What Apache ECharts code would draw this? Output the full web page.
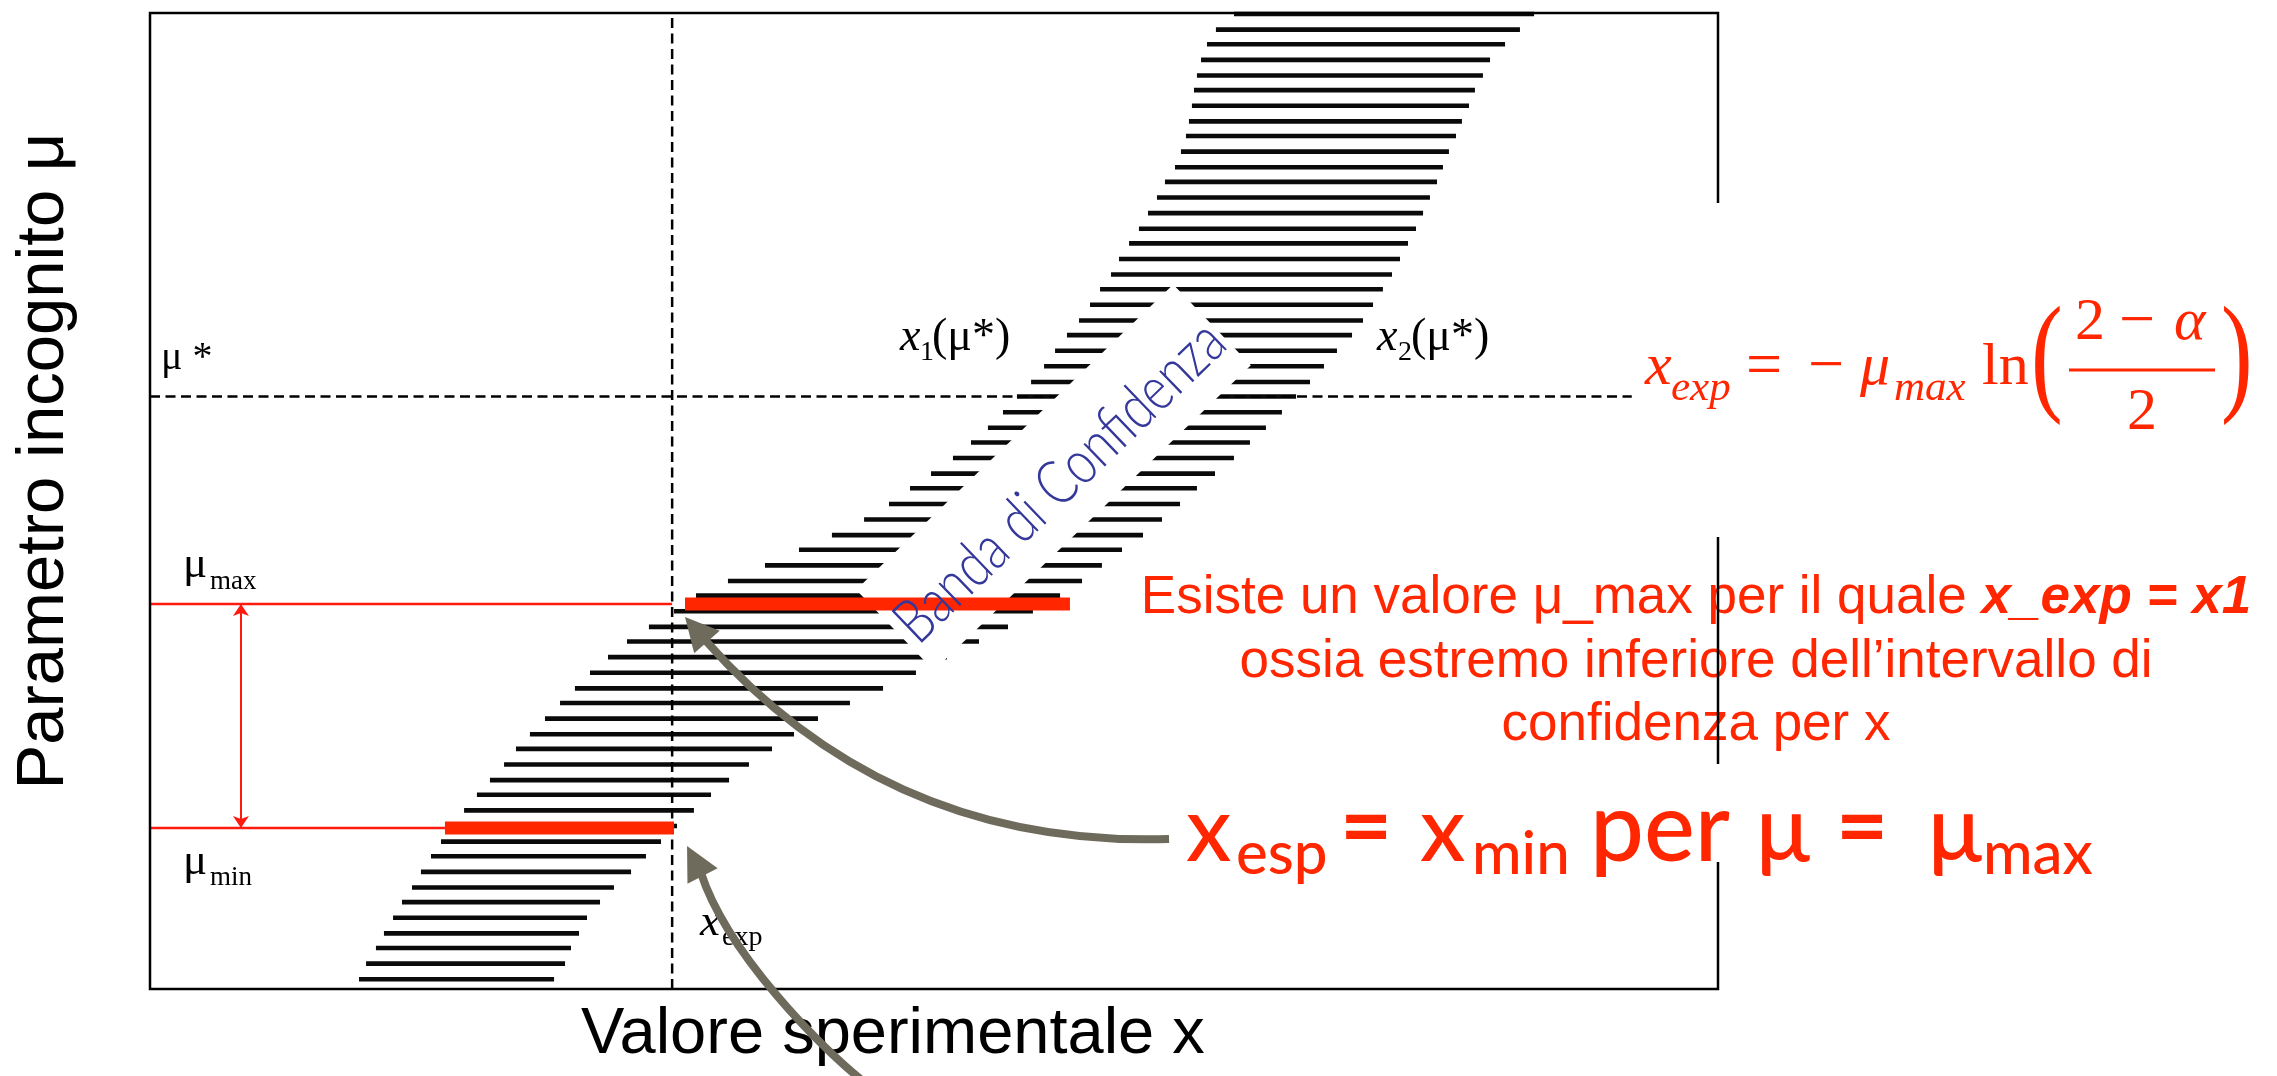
<!DOCTYPE html>
<html><head><meta charset="utf-8">
<script src="https://cdn.jsdelivr.net/npm/echarts@6/dist/echarts.min.js"></script>
<style>html,body{margin:0;padding:0;background:#fff}#c{width:2277px;height:1076px}</style>
</head><body><div id="c"></div>
<script>
// ---------------- data (arbitrary units: x 0..100, mu 0..100) ----------------
const bandLevels = [1.0, 2.6, 4.2, 5.7, 7.3, 8.9, 10.4, 12.0, 13.6, 15.1, 16.7, 18.3, 19.9, 21.4, 23.0, 24.6, 26.1, 27.7, 29.3, 30.8, 32.4, 34.0, 35.6, 37.1, 38.7, 40.3, 41.8, 43.4, 45.0, 46.5, 48.1, 49.7, 51.3, 52.8, 54.4, 56.0, 57.5, 59.1, 60.7, 62.2, 63.8, 65.4, 67.0, 68.5, 70.1, 71.7, 73.2, 74.8, 76.4, 77.9, 79.5, 81.1, 82.7, 84.2, 85.8, 87.4, 88.9, 90.5, 92.1, 93.6, 95.2, 96.8, 98.3, 99.9];
const bandLeft = [13.33, 13.78, 14.41, 14.92, 15.50, 16.07, 16.71, 17.28, 17.92, 18.56, 19.26, 20.03, 20.85, 21.68, 22.58, 23.34, 24.23, 25.19, 26.15, 27.10, 28.06, 29.21, 30.42, 31.82, 33.42, 34.82, 36.86, 39.22, 41.39, 43.49, 45.54, 47.13, 48.47, 49.81, 51.21, 52.36, 53.44, 54.40, 55.29, 56.19, 57.02, 57.72, 58.48, 59.25, 59.95, 60.59, 61.29, 61.80, 62.44, 63.07, 63.65, 64.22, 64.73, 65.37, 65.75, 66.07, 66.26, 66.45, 66.58, 66.77, 67.03, 67.41, 67.98, 69.13];
const bandRight = [25.77, 26.47, 26.85, 27.36, 27.87, 28.70, 29.59, 30.68, 31.63, 32.59, 33.61, 34.69, 35.78, 36.93, 38.20, 39.67, 41.07, 42.60, 44.64, 46.75, 48.85, 50.83, 52.87, 54.72, 56.31, 58.04, 59.44, 60.71, 61.99, 63.33, 64.54, 65.69, 66.77, 67.92, 69.13, 70.15, 71.17, 72.19, 73.09, 73.98, 74.87, 75.70, 76.66, 77.36, 78.00, 78.63, 79.21, 79.72, 80.23, 80.74, 81.19, 81.63, 82.08, 82.46, 82.84, 83.29, 83.67, 84.12, 84.50, 85.01, 85.46, 86.42, 87.37, 88.27];
const xExp = 33.3;
const muStar = 60.7;
const muMax = 39.45;
const muMin = 16.5;
const muStarLineEnd = 94.5;
const thickMaxX = [34.12, 58.67];
const thickMinX = [18.81, 33.42];
const rangeArrowX = 5.8;
const upperArrowPath = [[64.99, 15.37], [52.23, 14.75], [42.67, 22.49], [35.52, 35.55]];
const upperArrowTip = [34.12, 38.11];
const lowerArrowPath = [[45.79, -9.84], [42.77, -6.09], [36.77, 3.79], [35.24, 11.58]];
const lowerArrowTip = [34.25, 14.65];

// ---------------- helpers ----------------
const RED = '#ff2600';
const KS = {'Liberation Serif': 0.3375, 'Liberation Sans': 0.3465, 'Lato': 0.387};
function T(str, x, base, size, fam, o) {
  o = o || {};
  const al = o.al || 'left';
  return {
    type: 'text', x: x, y: base - KS[fam] * size, z: o.z || 10,
    rotation: o.rot || 0, scaleX: o.sx || 1, silent: true,
    style: {
      text: str, fontSize: size, fontFamily: fam,
      fontStyle: o.it ? 'italic' : 'normal', fontWeight: o.w || 'normal',
      fill: o.c || '#000', textAlign: al, align: al,
      textVerticalAlign: 'middle', verticalAlign: 'middle'
    }
  };
}
const mctx = document.createElement('canvas').getContext('2d');
function measure(str, font) { mctx.font = font; return mctx.measureText(str).width; }

const hatchData = bandLevels.map((m, i) => [bandLeft[i], m, bandRight[i]]);
const arrowData = [
  [].concat(...upperArrowPath, upperArrowTip),
  [].concat(...lowerArrowPath, lowerArrowTip)
];

function dashed(data) {
  return {type: 'line', data: data, symbol: 'none', showSymbol: false, silent: true, z: 2, animation: false,
    lineStyle: {color: '#000', width: 2.5, type: [10, 5.5]}};
}
function solid(data, color, width, z) {
  return {type: 'line', data: data, symbol: 'none', showSymbol: false, silent: true, z: z, animation: false,
    lineStyle: {color: color, width: width, cap: 'butt'}};
}

// ---------------- graphic annotations ----------------
const g = [];
// white occluders
g.push({type: 'rect', shape: {x: 1634, y: 203, width: 640, height: 334}, style: {fill: '#fff'}, z: 12, silent: true});
g.push({type: 'rect', shape: {x: 1172, y: 764, width: 930, height: 98}, style: {fill: '#fff'}, z: 12, silent: true});
g.push({type: 'rect', x: 1053.5, y: 477.5, rotation: 0.766, shape: {x: -220, y: -56, width: 440, height: 112}, style: {fill: '#fff'}, z: 3, silent: true});
// band label
(function () {
  const fs = 62, str = 'Banda di Confidenza';
  const w = measure(str, '300 ' + fs + 'px Lato');
  g.push({type: 'text', x: 1060, y: 482, rotation: 0.766, scaleX: 432 / w, z: 5, silent: true,
    style: {text: str, fontSize: fs, fontFamily: 'Lato', fontWeight: 300, fill: '#34389a',
      textAlign: 'center', align: 'center', textVerticalAlign: 'middle', verticalAlign: 'middle'}});
})();
// axis titles
(function () {
  const t = T('Parametro incognito μ', 0, 0, 67, 'Liberation Sans', {rot: Math.PI / 2, al: 'center'});
  t.x = 68 - 0.3465 * 67; t.y = 461;
  g.push(t);
})();
g.push(T('Valore sperimentale x', 581, 1058, 65, 'Liberation Sans'));
// plot labels
g.push(T('μ *', 161, 372, 40, 'Liberation Serif'));
g.push(T('μ', 183, 580, 45, 'Liberation Serif'));
g.push(T('max', 210, 591, 27, 'Liberation Serif'));
g.push(T('μ', 183, 877, 45, 'Liberation Serif'));
g.push(T('min', 210, 887, 27, 'Liberation Serif'));
g.push(T('x', 700, 938, 45, 'Liberation Serif', {it: true}));
g.push(T('exp', 722, 947, 28, 'Liberation Serif'));
g.push(T('x', 900, 353, 46, 'Liberation Serif', {it: true}));
g.push(T('1', 920, 362, 28, 'Liberation Serif'));
g.push(T('(μ*)', 932, 353, 46, 'Liberation Serif'));
g.push(T('x', 1377, 353, 46, 'Liberation Serif', {it: true}));
g.push(T('2', 1398, 362, 28, 'Liberation Serif'));
g.push(T('(μ*)', 1411, 353, 46, 'Liberation Serif'));
// formula
const FZ = 13;
g.push(T('x', 1645, 388, 60, 'Liberation Serif', {it: true, c: RED, z: FZ}));
g.push(T('exp', 1671, 403, 43, 'Liberation Serif', {it: true, c: RED, z: FZ}));
g.push(T('=', 1746, 390, 64, 'Liberation Serif', {c: RED, z: FZ}));
g.push(T('−', 1808, 390, 64, 'Liberation Serif', {c: RED, z: FZ}));
g.push(T('μ', 1860, 388, 60, 'Liberation Serif', {it: true, c: RED, z: FZ}));
g.push(T('max', 1894, 403, 43, 'Liberation Serif', {it: true, c: RED, z: FZ}));
g.push(T('ln', 1982, 388, 60, 'Liberation Serif', {c: RED, z: FZ}));
g.push(T('(', 2031, 407, 132, 'Liberation Serif', {c: RED, z: FZ, sx: 0.72}));
g.push(T('2', 2075, 343, 60, 'Liberation Serif', {c: RED, z: FZ}));
g.push(T('−', 2119, 345, 64, 'Liberation Serif', {c: RED, z: FZ}));
g.push(T('α', 2174, 343, 60, 'Liberation Serif', {it: true, c: RED, z: FZ}));
g.push({type: 'line', shape: {x1: 2069, y1: 370, x2: 2215, y2: 370}, style: {stroke: RED, lineWidth: 3}, z: FZ, silent: true});
g.push(T('2', 2127, 433, 60, 'Liberation Serif', {c: RED, z: FZ}));
g.push(T(')', 2221, 407, 132, 'Liberation Serif', {c: RED, z: FZ, sx: 0.72}));
// explanation
g.push({type: 'text', x: 1696, y: 617 - 0.3465 * 53, z: 10, silent: true,
  style: {text: '{a|Esiste un valore μ_max per il quale }{b|x_exp = x1}',
    rich: {a: {fontSize: 53, fontFamily: 'Liberation Sans', fill: RED, color: RED},
           b: {fontSize: 53, fontFamily: 'Liberation Sans', fontWeight: 'bold', fontStyle: 'italic', fill: RED, color: RED}},
    textAlign: 'center', align: 'center', textVerticalAlign: 'middle', verticalAlign: 'middle'}});
g.push(T('ossia estremo inferiore dell’intervallo di', 1696, 681, 53, 'Liberation Sans', {c: RED, al: 'center'}));
g.push(T('confidenza per x', 1696, 744, 53, 'Liberation Sans', {c: RED, al: 'center'}));
// big statement
const BM = 90, BS = 60;
g.push(T('x', 1186, 867, BM, 'Lato', {c: RED, z: FZ, w: 500}));
g.push(T('esp', 1236, 878, BS, 'Lato', {c: RED, z: FZ, w: 500}));
g.push(T('=', 1340, 863, BM, 'Lato', {c: RED, z: FZ, w: 'bold'}));
g.push(T('x', 1420, 867, BM, 'Lato', {c: RED, z: FZ, w: 500}));
g.push(T('min', 1472, 878, BS, 'Lato', {c: RED, z: FZ, w: 500}));
g.push(T('per', 1590, 867, BM + 6, 'Lato', {c: RED, z: FZ, w: 500}));
g.push(T('μ', 1756, 867, BM, 'Lato', {c: RED, z: FZ, w: 500}));
g.push(T('=', 1836, 863, BM, 'Lato', {c: RED, z: FZ, w: 'bold'}));
g.push(T('μ', 1928, 867, BM, 'Lato', {c: RED, z: FZ, w: 500}));
g.push(T('max', 1983, 878, BS, 'Lato', {c: RED, z: FZ, w: 500}));

// ---------------- chart ----------------
const chart = echarts.init(document.getElementById('c'), null, {renderer: 'canvas', width: 2277, height: 1076});
chart.setOption({
  animation: false,
  backgroundColor: '#fff',
  grid: {left: 150, top: 13, width: 1568, height: 976, show: true, borderColor: '#000', borderWidth: 2.5, backgroundColor: 'transparent', z: 11},
  xAxis: {type: 'value', min: 0, max: 100, show: false},
  yAxis: {type: 'value', min: 0, max: 100, show: false},
  graphic: {elements: g},
  series: [
    {type: 'custom', name: 'band', z: 2, silent: true, clip: false, data: hatchData,
      encode: {x: [0, 2], y: 1},
      renderItem: function (params, api) {
        const y = api.value(1);
        const a = api.coord([api.value(0), y]);
        const b = api.coord([api.value(2), y]);
        return {type: 'line', shape: {x1: a[0], y1: a[1], x2: b[0], y2: b[1]}, style: {stroke: '#0a0a0a', lineWidth: 4.6, lineCap: 'butt'}};
      }},
    dashed([[xExp, 0], [xExp, 100]]),
    dashed([[0, muStar], [muStarLineEnd, muStar]]),
    solid([[0, muMax], [xExp, muMax]], '#ff1a10', 2.5, 4),
    solid([[0, muMin], [thickMinX[0], muMin]], '#ff1a10', 2.5, 4),
    solid([[thickMaxX[0], muMax], [thickMaxX[1], muMax]], RED, 13, 4),
    solid([[thickMinX[0], muMin], [thickMinX[1], muMin]], RED, 13, 4),
    {type: 'lines', coordinateSystem: 'cartesian2d', z: 4, silent: true, symbol: ['arrow', 'arrow'], symbolSize: 12,
      lineStyle: {color: '#ff1a10', width: 2, opacity: 1, curveness: 0},
      data: [{coords: [[rangeArrowX, muMin], [rangeArrowX, muMax]]}]},
    {type: 'custom', name: 'arrows', z: 14, silent: true, clip: false, data: arrowData,
      encode: {x: [0, 2, 4, 6, 8], y: [1, 3, 5, 7, 9]},
      renderItem: function (params, api) {
        const p = [0, 1, 2, 3].map(k => api.coord([api.value(2 * k), api.value(2 * k + 1)]));
        const tip = api.coord([api.value(8), api.value(9)]);
        const dx = tip[0] - p[3][0], dy = tip[1] - p[3][1];
        const L = Math.hypot(dx, dy), nx = -dy / L, ny = dx / L, hw = 17;
        const col = '#6f6b5c';
        return {type: 'group', children: [
          {type: 'bezierCurve', shape: {x1: p[0][0], y1: p[0][1], cpx1: p[1][0], cpy1: p[1][1], cpx2: p[2][0], cpy2: p[2][1], x2: p[3][0] + dx * 0.1, y2: p[3][1] + dy * 0.1},
            style: {stroke: col, lineWidth: 8, fill: 'none'}},
          {type: 'polygon', shape: {points: [tip, [p[3][0] + nx * hw, p[3][1] + ny * hw], [p[3][0] - nx * hw, p[3][1] - ny * hw]]},
            style: {fill: col}}
        ]};
      }}
  ]
});
</script></body></html>
